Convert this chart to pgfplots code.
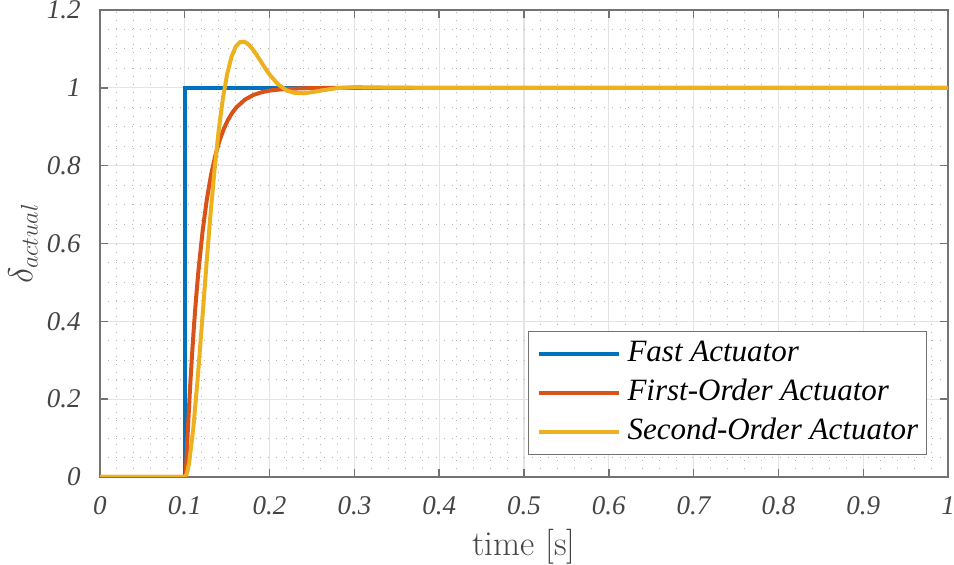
\documentclass[border=0pt]{standalone}
\usepackage{fontspec}
\newfontfamily\tnr{LiberationSerif}[Extension=.ttf, UprightFont=*-Regular, ItalicFont=*-Italic, BoldFont=*-Bold]
\usepackage{pgfplots}
\pgfplotsset{compat=1.18}
\definecolor{mblue}{rgb}{0,0.447,0.741}
\definecolor{mred}{rgb}{0.85,0.325,0.098}
\definecolor{myellow}{rgb}{0.929,0.694,0.125}
\definecolor{axgray}{rgb}{0.45,0.45,0.45}
\definecolor{txtgray}{rgb}{0.27,0.27,0.27}
\begin{document}
\begin{tikzpicture}
\begin{axis}[
  scale only axis, width=424pt, height=233.5pt,
  xmin=0, xmax=1, ymin=0, ymax=1.2,
  xtick={0,0.1,0.2,0.3,0.4,0.5,0.6,0.7,0.8,0.9,1},
  ytick={0,0.2,0.4,0.6,0.8,1,1.2},
  minor x tick num=4, minor y tick num=3,
  grid=both,
  major grid style={draw={rgb,1:red,0.89;green,0.89;blue,0.89}, line width=0.6pt},
  minor grid style={draw={rgb,1:red,0.7;green,0.7;blue,0.7}, line width=0.5pt, dash pattern=on 0.5pt off 3.5pt},
  axis line style={axgray, line width=0.7pt},
  tick style={axgray, line width=0.7pt},
  major tick length=4pt, minor tick length=0pt,
  tick align=inside,
  /pgf/number format/assume math mode=true,
  tick label style={font=\tnr\itshape\fontsize{13.5}{13.5}\selectfont, text=txtgray, inner sep=0pt},
  xticklabel style={anchor=base, yshift=-19pt},
  yticklabel style={anchor=east, xshift=-9.5pt},
  xlabel={time [s]},
  xlabel style={at={(axis description cs:0.5,0)}, anchor=base, yshift=-39.5pt, font=\fontsize{17.5}{17.5}\selectfont, text=txtgray, inner sep=0pt},
  ylabel={$\delta_{actual}$},
  ylabel style={at={(axis description cs:-0.0908,0.5)}, anchor=center, font=\fontsize{17}{17}\selectfont, text=txtgray, inner sep=0pt},
  legend style={at={(0.975,0.047)}, anchor=south east, draw=axgray, line width=0.6pt, fill=white,
    font=\tnr\itshape\fontsize{15.5}{19}\selectfont, text=black, inner xsep=4pt, inner ysep=3pt, row sep=3pt,
    nodes={inner sep=0pt, text height=12pt, text depth=4.5pt},
    /tikz/every odd column/.style={column sep=3.5pt}},
  legend cell align=left,
  legend image code/.code={\draw[#1] (0pt,0pt) -- (40pt,0pt);},
]
\coordinate (sw) at (rel axis cs:0,0);
\coordinate (ne) at (rel axis cs:1,1);
\addplot[mblue, line width=2pt] coordinates {(0,0) (0.1,0) (0.1,1) (1,1)};
\addlegendentry{Fast Actuator}
\addplot[mred, line width=2pt, line join=round] coordinates {
(0,0) (0.1,0) (0.101,0) (0.103,0.0952) (0.106,0.2212) (0.1085,0.3127) (0.111,0.3935) (0.1135,0.4647)
(0.116,0.5276) (0.121,0.6321) (0.126,0.7135) (0.131,0.7769) (0.136,0.8262) (0.141,0.8647)
(0.146,0.8946) (0.151,0.9179) (0.156,0.9361) (0.161,0.9502) (0.171,0.9698) (0.181,0.9817)
(0.191,0.9889) (0.201,0.9933) (0.221,0.9975) (0.251,0.9994) (0.301,1.0) (1,1)};
\addlegendentry{First-Order Actuator}
\addplot[myellow, line width=2pt, line join=round] coordinates {
(0,0) (0.1,0) (0.1025,0.0092) (0.105,0.0346) (0.11,0.1243) (0.115,0.2477) (0.12,0.3879)
(0.125,0.5309) (0.13,0.6669) (0.135,0.7882) (0.14,0.8915) (0.145,0.9738) (0.15,1.0360)
(0.155,1.0791) (0.16,1.1056) (0.165,1.1176) (0.17,1.1187) (0.175,1.1119) (0.18,1.0994)
(0.185,1.0836) (0.19,1.0667) (0.195,1.0497) (0.2,1.0340) (0.21,1.0089) (0.22,0.9934)
(0.23,0.9866) (0.24,0.9860) (0.25,0.9888) (0.26,0.9928) (0.28,0.9994) (0.30,1.0017)
(0.32,1.0012) (0.35,1.0003) (0.4,1.0) (1,1)};
\addlegendentry{Second-Order Actuator}
\end{axis}
\pgfresetboundingbox
\path ([shift={(-50pt,-44pt)}]sw) rectangle ([shift={(3pt,5pt)}]ne);
\end{tikzpicture}
\end{document}
